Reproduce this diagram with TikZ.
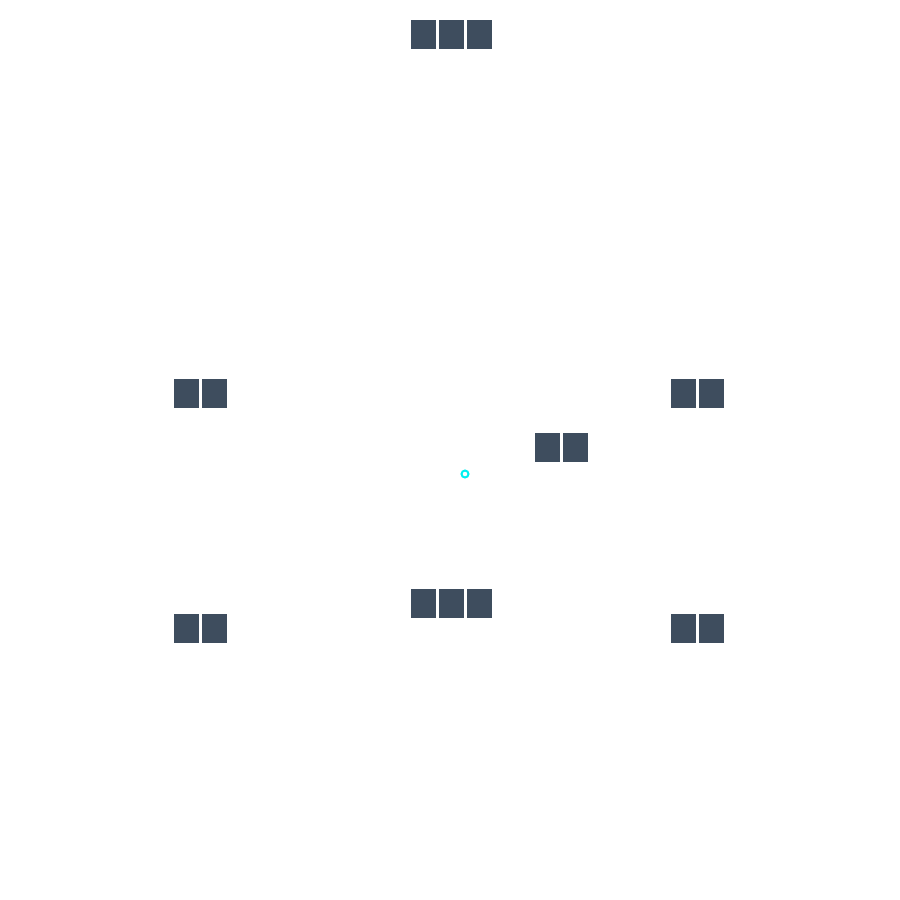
\documentclass[tikz,border=0pt]{standalone}
\usepackage{tikz}
\definecolor{slate}{HTML}{3E4D5E}
\definecolor{mark}{HTML}{00F0F0}
\tikzset{
  cell/.style={fill=slate, minimum width=25pt, minimum height=29pt, inner sep=0pt},
  dot/.style={circle, draw=mark, line width=2pt, minimum size=7pt, inner sep=0pt}
}

\begin{document}
\begin{tikzpicture}[x=1pt, y=-1pt]
  \useasboundingbox (0, 0) rectangle (900, 900);
  \node [cell] (T1) at (423.5, 34.5) {};
  \node [cell] (T2) at (451.5, 34.5) {};
  \node [cell] (T3) at (479.5, 34.5) {};
  \node [cell] (LT1) at (186.5, 393.5) {};
  \node [cell] (LT2) at (214.5, 393.5) {};
  \node [cell] (RT1) at (683.5, 393.5) {};
  \node [cell] (RT2) at (711.5, 393.5) {};
  \node [cell] (M1) at (547.5, 447.5) {};
  \node [cell] (M2) at (575.5, 447.5) {};
  \node [cell] (B1) at (423.5, 603.5) {};
  \node [cell] (B2) at (451.5, 603.5) {};
  \node [cell] (B3) at (479.5, 603.5) {};
  \node [cell] (LB1) at (186.5, 628.5) {};
  \node [cell] (LB2) at (214.5, 628.5) {};
  \node [cell] (RB1) at (683.5, 628.5) {};
  \node [cell] (RB2) at (711.5, 628.5) {};
  \node [dot] (C) at (465, 474) {};
\end{tikzpicture}
\end{document}
